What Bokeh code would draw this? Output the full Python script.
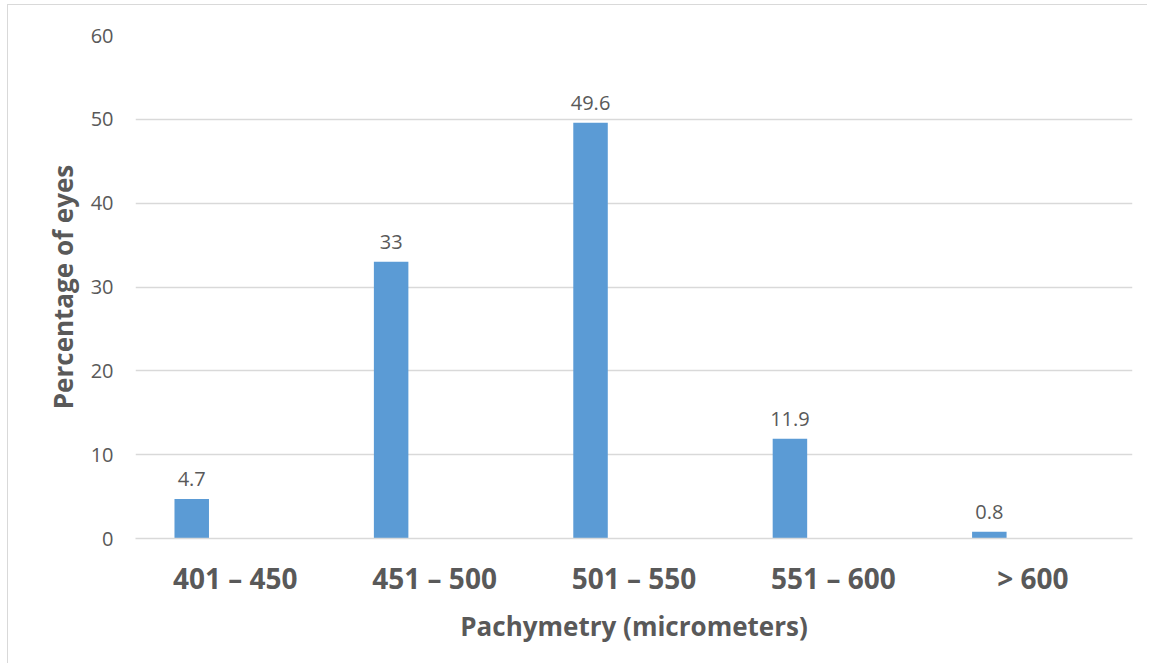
from bokeh.plotting import figure
from bokeh.models import Range1d, FactorRange, ColumnDataSource, FixedTicker
from bokeh.transform import dodge
from bokeh.embed import file_html
from bokeh.resources import INLINE
from bokeh.core.properties import value

categories = ["401 – 450", "451 – 500", "501 – 550", "551 – 600", "> 600"]
percent = [4.7, 33, 49.6, 11.9, 0.8]
labels = ["4.7", "33", "49.6", "11.9", "0.8"]
y_ticks = [0, 10, 20, 30, 40, 50, 60]

FONT = "Open Sans"
TXT = "#595959"
GRID = "#d9d9d9"
BAR = "#5b9bd5"

src = ColumnDataSource(dict(cat=categories, pct=percent, lbl=labels))

p = figure(x_range=FactorRange(*categories, range_padding=0),
           y_range=Range1d(0, 60),
           width=1140, height=659,
           output_backend="svg", toolbar_location=None,
           min_border_left=127, min_border_right=16,
           min_border_top=30, min_border_bottom=126)
p.styles = {"border-left": "1px solid #d9d9d9", "border-top": "1px solid #d9d9d9",
            "margin-left": "7px", "margin-top": "4px"}
p.outline_line_color = None
p.background_fill_color = "white"
p.border_fill_color = "white"

xpos = dodge("cat", -0.218, range=p.x_range)
p.vbar(x=xpos, top="pct", width=0.173, source=src,
       fill_color=BAR, line_color=None)
p.text(x=xpos, y="pct", text="lbl", source=src, y_offset=-13,
       text_align="center", text_baseline="bottom",
       text_font=value(FONT), text_font_size="20px", text_color=TXT)

p.xgrid.grid_line_color = None
p.ygrid.ticker = FixedTicker(ticks=y_ticks)
p.ygrid.grid_line_color = GRID
p.ygrid.grid_line_width = 1.5

p.yaxis.ticker = FixedTicker(ticks=y_ticks)
p.yaxis.axis_line_color = None
p.yaxis.major_tick_line_color = None
p.yaxis.minor_tick_line_color = None
p.yaxis.major_label_text_font = FONT
p.yaxis.major_label_text_font_size = "20px"
p.yaxis.major_label_text_color = TXT
p.yaxis.major_label_standoff = 16
p.yaxis.axis_label = "Percentage of eyes"
p.yaxis.axis_label_text_font = FONT
p.yaxis.axis_label_text_font_style = "bold"
p.yaxis.axis_label_text_font_size = "26px"
p.yaxis.axis_label_text_color = TXT
p.yaxis.axis_label_standoff = 7

p.xaxis.axis_line_color = GRID
p.xaxis.axis_line_width = 1.5
p.xaxis.major_tick_line_color = None
p.xaxis.minor_tick_line_color = None
p.xaxis.major_label_text_font = FONT
p.xaxis.major_label_text_font_style = "bold"
p.xaxis.major_label_text_font_size = "28px"
p.xaxis.major_label_text_color = TXT
p.xaxis.major_label_standoff = 14
p.xaxis.axis_label = "Pachymetry (micrometers)"
p.xaxis.axis_label_text_font = FONT
p.xaxis.axis_label_text_font_style = "bold"
p.xaxis.axis_label_text_font_size = "26px"
p.xaxis.axis_label_text_color = TXT
p.xaxis.axis_label_standoff = 8

open("out.html", "w").write(file_html(p, INLINE))
